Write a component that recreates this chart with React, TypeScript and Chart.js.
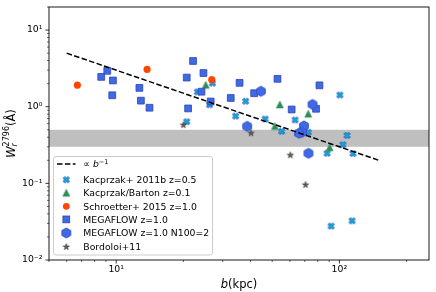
import React, { useEffect, useRef } from 'react';
import { Chart, registerables } from 'chart.js';

Chart.register(...registerables);

// ---------------- data (impact parameter b in kpc, W_r in Å) ----------------
const kacprzakB = [20.7, 23.1, 26.2, 27.0, 38.0, 34.3, 46.5, 55.1, 63.3, 72.5, 100.5, 108.2, 103.7, 88.1, 115.1, 91.8, 114.0];
const kacprzakW = [0.637, 1.56, 1.06, 2.03, 1.18, 0.755, 0.691, 0.478, 0.671, 0.464, 1.42, 0.422, 0.319, 0.247, 0.245, 0.0277, 0.0324];

const bartonB = [25.2, 54.1, 72.5, 51.4, 90.4];
const bartonW = [1.93, 1.07, 0.81, 0.56, 0.295];

const schroetterB = [6.7, 13.75, 26.8];
const schroetterW = [1.91, 3.07, 2.25];

const megaflowB = [8.57, 9.12, 9.67, 9.6, 12.7, 12.9, 14.1, 22.1, 20.7, 24.6, 24.1, 26.5, 21.0, 35.7, 32.6, 41.5, 52.8, 61.1, 81.4, 78.6];
const megaflowW = [2.45, 2.94, 2.2, 1.41, 1.76, 1.2, 0.97, 3.95, 2.4, 2.75, 1.57, 1.17, 0.95, 2.05, 1.3, 1.5, 2.31, 0.92, 1.9, 0.94];

const megaflow2B = [44.5, 75.8, 38.6, 69.4, 68.0, 65.9, 72.7];
const megaflow2W = [1.59, 1.07, 0.554, 0.562, 0.464, 0.451, 0.247];

const bordoloiB = [20.0, 40.2, 60.3, 70.5];
const bordoloiW = [0.576, 0.451, 0.233, 0.0957];

const powerLawB = [6, 150];
const powerLawW = [5.0, 0.2];

const bandW = [0.3, 0.5];

const X_MIN = 5;
const X_MAX = 252;
const Y_MIN = 0.01;
const Y_MAX = 20;

const xMajorTicks = [10, 100];
const xTickLabels = ['10¹', '10²'];
const yMajorTicks = [0.01, 0.1, 1, 10];
const yTickLabels = ['10⁻²', '10⁻¹', '10⁰', '10¹'];

const legendLabels = [
  '∝ b⁻¹',
  'Kacprzak+ 2011b z=0.5',
  'Kacprzak/Barton z=0.1',
  'Schroetter+ 2015 z=1.0',
  'MEGAFLOW z=1.0',
  'MEGAFLOW z=1.0 N100=2',
  'Bordoloi+11',
];

// ---------------- styling ----------------
const FONT = "'DejaVu Sans', sans-serif";
const TICK_FS = 9.3;
const LABEL_FS = 11.5;
const LEG_FS = 9.3;

const C_CYAN = '#00bfbf';
const C_CYAN_EDGE = '#2345d6';
const C_GREEN = '#2e8b57';
const C_RED = '#ff4500';
const C_BLUE = '#4169e1';
const C_BLUE_EDGE = '#2b44b8';
const C_HEX_EDGE = '#3352d4';
const C_STAR = '#5a5a5a';
const C_STAR_EDGE = '#3a3a3a';

const close = (a: number, b: number) => Math.abs(a / b - 1) < 1e-6;

function logTicks(min: number, max: number) {
  const out: number[] = [];
  for (let e = Math.floor(Math.log10(min)); e <= Math.ceil(Math.log10(max)); e++) {
    for (let k = 1; k <= 9; k++) {
      const v = parseFloat((k * Math.pow(10, e)).toPrecision(6));
      if (v >= min * 0.999 && v <= max * 1.001) out.push(v);
    }
  }
  return out;
}

function labelFor(v: number, majors: number[], labels: string[]) {
  for (let i = 0; i < majors.length; i++) if (close(v, majors[i])) return labels[i];
  return '';
}

function mk(size: number, draw: (ctx: CanvasRenderingContext2D, c: number) => void) {
  const cv = document.createElement('canvas');
  cv.width = size;
  cv.height = size;
  const ctx = cv.getContext('2d') as CanvasRenderingContext2D;
  draw(ctx, size / 2);
  return cv;
}

function makeMarkers() {
  const xm = mk(11, (ctx, c) => {
    const u = 1.55;
    const p = [[-1, -2], [0, -1], [1, -2], [2, -1], [1, 0], [2, 1], [1, 2], [0, 1], [-1, 2], [-2, 1], [-1, 0], [-2, -1]];
    ctx.beginPath();
    p.forEach(([a, b], i) => (i ? ctx.lineTo(c + a * u, c + b * u) : ctx.moveTo(c + a * u, c + b * u)));
    ctx.closePath();
    ctx.fillStyle = C_CYAN;
    ctx.fill();
    ctx.lineWidth = 1;
    ctx.strokeStyle = C_CYAN_EDGE;
    ctx.stroke();
  });
  const tri = mk(11, (ctx, c) => {
    const h = 3.6;
    ctx.beginPath();
    ctx.moveTo(c, c - h);
    ctx.lineTo(c - h, c + h);
    ctx.lineTo(c + h, c + h);
    ctx.closePath();
    ctx.fillStyle = C_GREEN;
    ctx.fill();
    ctx.lineWidth = 0.5;
    ctx.strokeStyle = C_GREEN;
    ctx.stroke();
  });
  const hex = mk(14, (ctx, c) => {
    const r = 5;
    ctx.beginPath();
    for (let k = 0; k < 6; k++) {
      const a = -Math.PI / 2 + (k * Math.PI) / 3;
      const px = c + r * Math.cos(a);
      const py = c + r * Math.sin(a);
      k ? ctx.lineTo(px, py) : ctx.moveTo(px, py);
    }
    ctx.closePath();
    ctx.fillStyle = C_BLUE;
    ctx.fill();
    ctx.lineWidth = 1;
    ctx.strokeStyle = C_HEX_EDGE;
    ctx.stroke();
  });
  const star = mk(10, (ctx, c) => {
    const R = 3.4;
    const r = R * 0.381966;
    ctx.beginPath();
    for (let k = 0; k < 10; k++) {
      const a = -Math.PI / 2 + (k * Math.PI) / 5;
      const rr = k % 2 ? r : R;
      const px = c + rr * Math.cos(a);
      const py = c + rr * Math.sin(a);
      k ? ctx.lineTo(px, py) : ctx.moveTo(px, py);
    }
    ctx.closePath();
    ctx.fillStyle = C_STAR;
    ctx.fill();
    ctx.lineWidth = 0.6;
    ctx.strokeStyle = C_STAR_EDGE;
    ctx.stroke();
  });
  return { xm, tri, hex, star };
}

type Seg = { t: string; size: number; italic?: boolean; dy?: number; noAdv?: boolean };

function fontOf(s: Seg) {
  return `${s.italic ? 'italic ' : ''}${s.size}px ${FONT}`;
}

function segsWidth(ctx: CanvasRenderingContext2D, segs: Seg[]) {
  let w = 0;
  let pending = 0;
  for (const s of segs) {
    ctx.font = fontOf(s);
    const sw = ctx.measureText(s.t).width;
    if (s.noAdv) {
      pending = Math.max(pending, sw);
    } else {
      w += Math.max(sw, pending);
      pending = 0;
    }
  }
  return w + pending;
}

function drawSegs(ctx: CanvasRenderingContext2D, segs: Seg[], x: number, y: number) {
  let cx = x;
  let pending = 0;
  for (const s of segs) {
    ctx.font = fontOf(s);
    ctx.fillText(s.t, cx, y + (s.dy || 0));
    const sw = ctx.measureText(s.t).width;
    if (s.noAdv) {
      pending = Math.max(pending, sw);
    } else {
      cx += Math.max(sw, pending);
      pending = 0;
    }
  }
}

function makePlugin(m: ReturnType<typeof makeMarkers>) {
  return {
    id: 'decor',
    beforeDatasetsDraw(chart: any) {
      const { ctx, chartArea: a } = chart;
      const y = chart.scales.y;
      const yTop = y.getPixelForValue(bandW[1]);
      const yBot = y.getPixelForValue(bandW[0]);
      ctx.save();
      ctx.fillStyle = 'rgba(128,128,128,0.5)';
      ctx.fillRect(a.left, yTop, a.right - a.left, yBot - yTop);
      ctx.restore();
    },
    afterDatasetsDraw(chart: any) {
      const { ctx, chartArea: a } = chart;
      const xs = chart.scales.x;
      const ys = chart.scales.y;
      ctx.save();
      ctx.strokeStyle = '#000';
      // tick marks
      for (const t of xs.ticks) {
        const px = xs.getPixelForValue(t.value);
        const major = xMajorTicks.some((v) => close(v, t.value));
        ctx.lineWidth = major ? 0.8 : 0.6;
        ctx.beginPath();
        ctx.moveTo(px, a.bottom);
        ctx.lineTo(px, a.bottom + (major ? 3.5 : 2));
        ctx.stroke();
      }
      for (const t of ys.ticks) {
        const py = ys.getPixelForValue(t.value);
        const major = yMajorTicks.some((v) => close(v, t.value));
        ctx.lineWidth = major ? 0.8 : 0.6;
        ctx.beginPath();
        ctx.moveTo(a.left, py);
        ctx.lineTo(a.left - (major ? 3.5 : 2), py);
        ctx.stroke();
      }
      // frame
      ctx.lineWidth = 0.9;
      ctx.strokeRect(a.left, a.top, a.right - a.left, a.bottom - a.top);
      ctx.restore();
    },
    afterDraw(chart: any) {
      const { ctx, chartArea: a } = chart;
      ctx.save();
      ctx.fillStyle = '#000';
      ctx.textBaseline = 'alphabetic';
      ctx.textAlign = 'left';

      // x title
      const xt: Seg[] = [
        { t: 'b', size: LABEL_FS, italic: true },
        { t: '(kpc)', size: LABEL_FS },
      ];
      const xw = segsWidth(ctx, xt);
      drawSegs(ctx, xt, (a.left + a.right) / 2 - xw / 2, 288);

      // y title
      const yt: Seg[] = [
        { t: 'W', size: LABEL_FS, italic: true },
        { t: 'r', size: LABEL_FS * 0.7, italic: true, dy: 2.6, noAdv: true },
        { t: '2796', size: LABEL_FS * 0.7, dy: -5.2 },
        { t: '(Å)', size: LABEL_FS },
      ];
      const yw = segsWidth(ctx, yt);
      ctx.save();
      ctx.translate(14.5, (a.top + a.bottom) / 2);
      ctx.rotate(-Math.PI / 2);
      drawSegs(ctx, yt, -yw / 2, 0);
      ctx.restore();

      // legend
      const bx = 53.5, by = 156.5, bw = 159, bh = 98.5;
      ctx.beginPath();
      if ((ctx as any).roundRect) (ctx as any).roundRect(bx, by, bw, bh, 2.5);
      else ctx.rect(bx, by, bw, bh);
      ctx.fillStyle = 'rgba(255,255,255,0.8)';
      ctx.fill();
      ctx.strokeStyle = '#cccccc';
      ctx.lineWidth = 1;
      ctx.stroke();

      const rows = [164, 179.8, 192.8, 206.3, 219.4, 233, 247];
      const mx = 66.3;
      const tx = 83.3;
      // row 0 : dashed line
      ctx.save();
      ctx.strokeStyle = '#000';
      ctx.lineWidth = 1.5;
      ctx.setLineDash([5.5, 2.4]);
      ctx.beginPath();
      ctx.moveTo(57, rows[0]);
      ctx.lineTo(75.5, rows[0]);
      ctx.stroke();
      ctx.restore();
      // markers
      const img = (cv: HTMLCanvasElement, cy: number) => ctx.drawImage(cv, mx - cv.width / 2, cy - cv.height / 2);
      img(m.xm, rows[1]);
      img(m.tri, rows[2]);
      ctx.beginPath();
      ctx.arc(mx, rows[3], 3.4, 0, Math.PI * 2);
      ctx.fillStyle = C_RED;
      ctx.fill();
      const s = 3.4;
      ctx.fillStyle = C_BLUE;
      ctx.strokeStyle = C_BLUE_EDGE;
      ctx.lineWidth = 0.8;
      ctx.fillRect(mx - s, rows[4] - s, 2 * s, 2 * s);
      ctx.strokeRect(mx - s, rows[4] - s, 2 * s, 2 * s);
      img(m.hex, rows[5]);
      img(m.star, rows[6]);

      // texts
      ctx.fillStyle = '#000';
      const t0: Seg[] = [
        { t: '∝ ', size: LEG_FS },
        { t: 'b', size: LEG_FS, italic: true },
        { t: '−1', size: LEG_FS * 0.7, dy: -3.6 },
      ];
      drawSegs(ctx, t0, tx, rows[0] + 3.4);
      ctx.font = `${LEG_FS}px ${FONT}`;
      for (let i = 1; i < legendLabels.length; i++) {
        ctx.fillText(legendLabels[i], tx, rows[i] + 3.4);
      }
      ctx.restore();
    },
  };
}

const pts = (bs: number[], ws: number[]) => bs.map((b, i) => ({ x: b, y: ws[i] }));

export default function App() {
  const ref = useRef<HTMLCanvasElement>(null);

  useEffect(() => {
    const canvas = ref.current;
    if (!canvas) return;
    const m = makeMarkers();

    const tickCommon = {
      autoSkip: false,
      maxRotation: 0,
      minRotation: 0,
      color: '#000',
      font: { family: FONT, size: TICK_FS },
    };
    const gridCommon = {
      display: true,
      drawOnChartArea: false,
      drawTicks: true,
      tickLength: 3.5,
      color: 'rgba(0,0,0,0)',
      tickColor: 'rgba(0,0,0,0)',
    };

    const chart = new Chart(canvas, {
      type: 'scatter',
      data: {
        datasets: [
          {
            label: legendLabels[0],
            data: pts(powerLawB, powerLawW),
            showLine: true,
            borderColor: '#000',
            borderWidth: 1.5,
            borderDash: [5.5, 2.4],
            pointRadius: 0,
            fill: false,
          } as any,
          {
            label: legendLabels[6],
            data: pts(bordoloiB, bordoloiW),
            pointStyle: m.star,
            pointRadius: 4,
          },
          {
            label: legendLabels[5],
            data: pts(megaflow2B, megaflow2W),
            pointStyle: m.hex,
            pointRadius: 6,
          },
          {
            label: legendLabels[4],
            data: pts(megaflowB, megaflowW),
            pointStyle: 'rect',
            pointRadius: 4.8,
            backgroundColor: C_BLUE,
            borderColor: C_BLUE_EDGE,
            borderWidth: 0.8,
          },
          {
            label: legendLabels[3],
            data: pts(schroetterB, schroetterW),
            pointStyle: 'circle',
            pointRadius: 3.4,
            backgroundColor: C_RED,
            borderColor: C_RED,
            borderWidth: 0.5,
          },
          {
            label: legendLabels[2],
            data: pts(bartonB, bartonW),
            pointStyle: m.tri,
            pointRadius: 4,
          },
          {
            label: legendLabels[1],
            data: pts(kacprzakB, kacprzakW),
            pointStyle: m.xm,
            pointRadius: 4,
          },
        ],
      },
      options: {
        responsive: false,
        animation: false,
        events: [],
        layout: { padding: { top: 3, right: 6, left: 0, bottom: 0 } },
        plugins: { legend: { display: false }, tooltip: { enabled: false }, title: { display: false } },
        scales: {
          x: {
            type: 'logarithmic',
            min: X_MIN,
            max: X_MAX,
            afterBuildTicks: (s: any) => {
              s.ticks = logTicks(X_MIN, X_MAX).map((v) => ({ value: v }));
            },
            afterFit: (s: any) => {
              s.height = 32;
              s.paddingLeft = 0;
              s.paddingRight = 0;
            },
            ticks: {
              ...tickCommon,
              padding: 1,
              callback: (v: any) => labelFor(Number(v), xMajorTicks, xTickLabels),
            },
            grid: gridCommon,
            border: { display: false },
            title: { display: false },
          },
          y: {
            type: 'logarithmic',
            min: Y_MIN,
            max: Y_MAX,
            afterBuildTicks: (s: any) => {
              s.ticks = logTicks(Y_MIN, Y_MAX).map((v) => ({ value: v }));
            },
            afterFit: (s: any) => {
              s.width = 49;
              s.paddingTop = 0;
              s.paddingBottom = 0;
            },
            ticks: {
              ...tickCommon,
              padding: 3,
              callback: (v: any) => labelFor(Number(v), yMajorTicks, yTickLabels),
            },
            grid: gridCommon,
            border: { display: false },
            title: { display: false },
          },
        },
      } as any,
      plugins: [makePlugin(m)],
    });

    return () => chart.destroy();
  }, []);

  return (
    <div style={{ position: 'fixed', left: 0, top: 0, width: 436, height: 292, background: '#fff' }}>
      <canvas ref={ref} width={436} height={292} style={{ display: 'block', width: 436, height: 292 }} />
    </div>
  );
}
